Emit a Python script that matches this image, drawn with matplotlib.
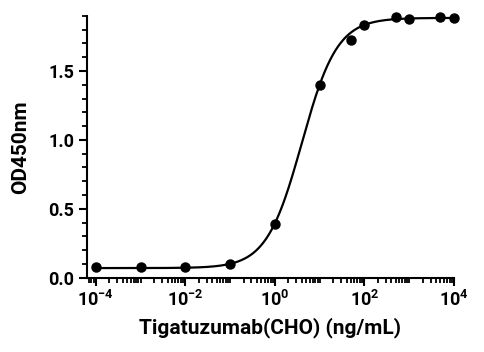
import numpy as np
import matplotlib
matplotlib.use('Agg')
import matplotlib.pyplot as plt
from matplotlib.ticker import LogLocator, MultipleLocator, FixedLocator, NullFormatter

plt.rcParams['font.family'] = ['Roboto', 'DejaVu Sans']
plt.rcParams['font.weight'] = 'bold'
plt.rcParams['mathtext.fontset'] = 'custom'
plt.rcParams['mathtext.rm'] = 'Roboto:bold'
plt.rcParams['mathtext.bf'] = 'Roboto:bold'
plt.rcParams['axes.unicode_minus'] = False

# measured points
conc = [1e-4, 1e-3, 1e-2, 1e-1, 1, 10, 50, 100, 500, 1000, 5000, 10000]
od450 = [0.075, 0.075, 0.075, 0.10, 0.39, 1.40, 1.725, 1.835, 1.89, 1.875, 1.89, 1.885]

# 4PL fit parameters
bottom, top, ec50, hill = 0.07, 1.885, 4.0, 1.1

xtick_pos = [1e-4, 1e-2, 1, 1e2, 1e4]
xtick_labels = ['$\\mathrm{10^{-4}}$', '$\\mathrm{10^{-2}}$', '$\\mathrm{10^{0}}$',
                '$\\mathrm{10^{2}}$', '$\\mathrm{10^{4}}$']
ytick_pos = [0, 0.5, 1.0, 1.5]
ytick_labels = ['0.0', '0.5', '1.0', '1.5']


def four_pl(x):
    return bottom + (top - bottom) / (1 + (ec50 / x) ** hill)


fig = plt.figure(figsize=(4.85, 3.52), dpi=100)
ax = fig.add_axes([0.179, 0.211, 0.757, 0.744])

xfit = np.logspace(-4, 4, 400)
ax.plot(xfit, four_pl(xfit), color='black', lw=1.6, zorder=2, clip_on=False)
ax.plot(conc, od450, 'o', color='black', ms=6.5, zorder=3, clip_on=False)

ax.set_xscale('log')
ax.set_xlim(10 ** -4.2, 1e4)
ax.set_ylim(0, 1.9)

ax.xaxis.set_major_locator(FixedLocator(xtick_pos))
ax.xaxis.set_minor_locator(LogLocator(base=10, subs=np.arange(1, 10), numticks=30))
ax.xaxis.set_minor_formatter(NullFormatter())
ax.set_xticklabels(xtick_labels)
ax.yaxis.set_major_locator(FixedLocator(ytick_pos))
ax.yaxis.set_minor_locator(MultipleLocator(0.1))
ax.set_yticklabels(ytick_labels)

for s in ['top', 'right']:
    ax.spines[s].set_visible(False)
for s in ['left', 'bottom']:
    ax.spines[s].set_linewidth(1.5)

ax.tick_params(which='major', length=6, width=1.5, labelsize=13, pad=3)
ax.tick_params(which='minor', length=3.5, width=1.3)

ax.set_xlabel('Tigatuzumab(CHO) (ng/mL)', fontsize=15, fontweight='bold', labelpad=5)
ax.set_ylabel('OD450nm', fontsize=15, fontweight='bold', labelpad=13)

fig.savefig('out.png', dpi=100)
